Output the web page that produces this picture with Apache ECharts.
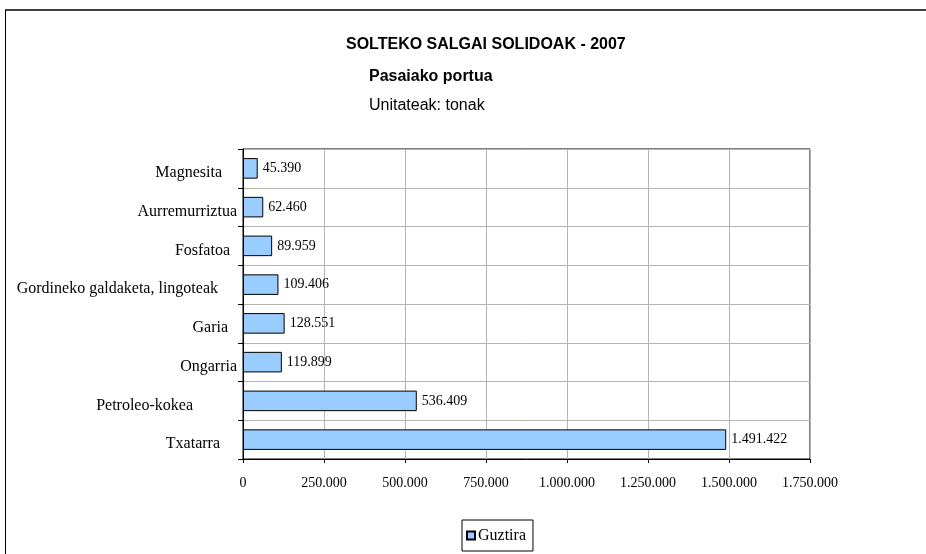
<!DOCTYPE html>
<html>
<head>
<meta charset="utf-8">
<script src="https://cdn.jsdelivr.net/npm/echarts@6/dist/echarts.min.js"></script>
<style>html,body{margin:0;padding:0;background:#fff;}#c{width:926px;height:554px;}</style>
</head>
<body>
<div id="c"></div>
<script>
const categories = ['Magnesita','Aurremurriztua','Fosfatoa','Gordineko galdaketa, lingoteak','Garia','Ongarria','Petroleo-kokea','Txatarra'];
const values = [45390, 62460, 89959, 109406, 128551, 119899, 536409, 1491422];
const seriesName = 'Guztira';
const xTicks = [0, 250000, 500000, 750000, 1000000, 1250000, 1500000, 1750000];
// extra right-side gap (px) of each category label, as laid out in the original
const labelGaps = [15, 0, 7, 19, 9, 0, 44, 17];

function fmt(v){ return String(v).replace(/\B(?=(\d{3})+(?!\d))/g, '.'); }

const serif = 'Liberation Serif';
const sans = 'Liberation Sans';
const rich = {};
labelGaps.forEach((g, i) => {
  rich['g' + i] = {fontFamily: serif, fontSize: 16, color: '#000', padding: [9, g, 0, 0]};
});

const chart = echarts.init(document.getElementById('c'));
chart.setOption({
  animation: false,
  backgroundColor: '#fff',
  title: [
    {text: 'SOLTEKO SALGAI SOLIDOAK - 2007', left: 346, top: 37, padding: 0,
     textStyle: {fontFamily: sans, fontWeight: 'bold', fontSize: 16, color: '#000'}},
    {text: 'Pasaiako portua', left: 369, top: 69, padding: 0,
     textStyle: {fontFamily: sans, fontWeight: 'bold', fontSize: 16, color: '#000'}},
    {text: 'Unitateak: tonak', left: 369, top: 98, padding: 0,
     textStyle: {fontFamily: sans, fontWeight: 'normal', fontSize: 16, color: '#000'}}
  ],
  graphic: [
    {type: 'line', shape: {x1: 5, y1: 10, x2: 926, y2: 10}, style: {stroke: '#404040', lineWidth: 2}},
    {type: 'line', shape: {x1: 5.5, y1: 10, x2: 5.5, y2: 554}, style: {stroke: '#000', lineWidth: 1}}
  ],
  legend: {
    data: [seriesName], left: 462, top: 520, orient: 'horizontal',
    borderColor: '#000', borderWidth: 1, padding: [3, 7, 3, 4],
    itemWidth: 8, itemHeight: 8, itemGap: 2, icon: 'rect',
    textStyle: {fontFamily: serif, fontSize: 16, lineHeight: 16, color: '#000', padding: [9, 0, 0, -2]}
  },
  grid: {left: 243, right: 116, top: 149, bottom: 95, show: true, borderColor: '#000', borderWidth: 1, containLabel: false},
  xAxis: {
    type: 'value', min: xTicks[0], max: xTicks[xTicks.length - 1], interval: xTicks[1] - xTicks[0],
    axisLine: {show: true, lineStyle: {color: '#000'}},
    axisTick: {show: true, length: 4, lineStyle: {color: '#000'}},
    axisLabel: {fontFamily: serif, fontSize: 14, color: '#000', margin: 17, formatter: v => fmt(v)},
    splitLine: {show: true, lineStyle: {color: '#b4b4b4', width: 1}}
  },
  yAxis: {
    type: 'category', inverse: true, data: categories,
    axisLine: {show: true, lineStyle: {color: '#000'}},
    axisTick: {show: true, length: 5, lineStyle: {color: '#000'}},
    axisLabel: {fontFamily: serif, fontSize: 16, color: '#000', margin: 6,
                formatter: (v, i) => '{g' + i + '|' + v + '}', rich: rich},
    splitLine: {show: true, lineStyle: {color: '#b4b4b4', width: 1}}
  },
  series: [{
    name: seriesName, type: 'bar', data: values, barCategoryGap: '47%',
    itemStyle: {color: '#99ccff', borderColor: '#000', borderWidth: 1},
    label: {show: true, position: 'right', distance: 5, fontFamily: serif, fontSize: 14, color: '#000',
            formatter: p => fmt(p.value)}
  }]
});
</script>
</body>
</html>
